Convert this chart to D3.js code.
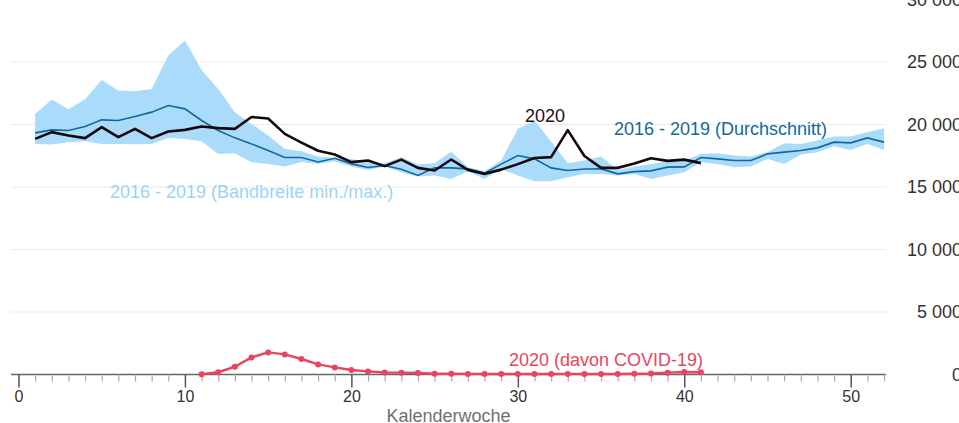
<!DOCTYPE html>
<html>
<head>
<meta charset="utf-8">
<script src="https://cdn.jsdelivr.net/npm/d3@7"></script>
<style>
  html, body { margin: 0; padding: 0; background: #fff; }
  svg { display: block; font-family: "Liberation Sans", Arial, sans-serif; }
</style>
</head>
<body>
<svg id="chart" width="959" height="423"></svg>
<script>
// ---- data ----
const weeks = d3.range(1, 53);
const bandMax = [20850,22000,21230,22030,23570,22720,22670,22850,25520,26720,24370,22850,20990,20050,19120,18050,17870,17450,17330,17250,16990,16910,17390,16800,16910,17840,16590,16270,17120,19650,20320,18650,16910,17120,17440,16370,16640,16850,17070,17120,17650,17710,17520,17440,17790,18510,18450,18720,19040,19040,19390,19710];
const bandMin = [18450,18400,18590,18670,18450,18450,18430,18450,18930,18850,18670,17650,17710,16990,16850,16640,17000,16850,17070,16640,16370,16640,16190,15840,15920,15650,16270,15650,16450,15920,15470,15470,15790,16050,16050,15920,16050,15650,15920,16190,16990,16850,16590,16640,17250,16850,17600,17790,18270,17970,18450,17970];
const avg = [19330,19570,19520,19840,20370,20320,20640,20990,21520,21250,20320,19520,18930,18450,17920,17360,17360,17000,17300,16850,16560,16720,16420,15920,16530,16530,16450,16110,16830,17520,17250,16530,16320,16440,16450,16050,16230,16290,16590,16610,17360,17250,17120,17120,17650,17790,17920,18130,18590,18530,18930,18590];
const weeks2020 = d3.range(1, 42);
const total2020 = [18850,19390,19120,18910,19790,18990,19650,18910,19440,19570,19840,19710,19650,20600,20480,19250,18550,17900,17600,16990,17120,16670,17190,16530,16320,17200,16370,16050,16390,16830,17320,17390,19550,17480,16530,16530,16880,17300,17090,17190,16910];
const weeksCovid = d3.range(11, 42);
const covid2020 = [30,180,620,1370,1770,1610,1240,810,570,360,250,160,150,120,60,60,50,50,50,50,50,40,50,50,50,50,60,80,150,200,180];
const yTicks = [0,5000,10000,15000,20000,25000,30000];
const xMajorTicks = [0,10,20,30,40,50];
const xMinorTicks = d3.range(0, 53);
const labels = {
  band: "2016 - 2019 (Bandbreite min./max.)",
  avg: "2016 - 2019 (Durchschnitt)",
  y2020: "2020",
  covid: "2020 (davon COVID-19)",
  xTitle: "Kalenderwoche"
};

// ---- scales ----
const svg = d3.select("#chart");
const x = d3.scaleLinear().domain([-0.45, 52.12]).range([11, 886]);
const y = d3.scaleLinear().domain([0, 30000]).range([374.5, -0.5]);
const loc = d3.formatLocale({decimal: ",", thousands: " ", grouping: [3], currency: ["", " €"]});
const fmt = loc.format(",d");

const colBand = "#abdbfa";
const colAvg = "#11699b";
const colBlack = "#16080c";
const colRed = "#e8455e";

// grid
svg.append("g").selectAll("line").data(yTicks.filter(d => d > 0)).join("line")
  .attr("x1", x.range()[0]).attr("x2", x.range()[1])
  .attr("y1", d => y(d)).attr("y2", d => y(d))
  .attr("stroke", "#ebebeb").attr("stroke-width", 1);

// band
const bandData = weeks.map((w, i) => ({w, lo: bandMin[i], hi: bandMax[i]}));
svg.append("path").datum(bandData)
  .attr("fill", colBand)
  .attr("d", d3.area().x(d => x(d.w)).y0(d => y(d.lo)).y1(d => y(d.hi)));

// average
svg.append("path").datum(weeks.map((w, i) => [w, avg[i]]))
  .attr("fill", "none").attr("stroke", colAvg).attr("stroke-width", 1.6)
  .attr("d", d3.line().x(d => x(d[0])).y(d => y(d[1])));

// 2020 total
svg.append("path").datum(weeks2020.map((w, i) => [w, total2020[i]]))
  .attr("fill", "none").attr("stroke", colBlack).attr("stroke-width", 2.6)
  .attr("stroke-linejoin", "round")
  .attr("d", d3.line().x(d => x(d[0])).y(d => y(d[1])));

// x axis
const axisG = svg.append("g").attr("transform", `translate(0,${y(0)})`);
axisG.append("line").attr("x1", x.range()[0]).attr("x2", x.range()[1])
  .attr("stroke", "#666").attr("stroke-width", 1.5);
const minor = axisG.append("g").call(d3.axisBottom(x).tickValues(xMinorTicks.filter(d => d % 10 !== 0)).tickSize(7).tickFormat(""));
minor.select(".domain").remove();
minor.selectAll("line").attr("stroke", "#aaa").attr("stroke-width", 1.2);
const major = axisG.append("g").call(d3.axisBottom(x).tickValues(xMajorTicks).tickSize(13).tickPadding(3).tickFormat(d3.format("d")));
major.select(".domain").remove();
major.selectAll("line").attr("stroke", "#555").attr("stroke-width", 1.5);
major.selectAll("text").attr("font-size", 16).attr("fill", "#333").attr("font-family", "Liberation Sans, Arial, sans-serif");

// covid line
const covData = weeksCovid.map((w, i) => [w, covid2020[i]]);
svg.append("path").datum(covData)
  .attr("fill", "none").attr("stroke", colRed).attr("stroke-width", 2.5)
  .attr("stroke-linejoin", "round")
  .attr("d", d3.line().x(d => x(d[0])).y(d => y(d[1])));
svg.append("g").selectAll("circle").data(covData).join("circle")
  .attr("cx", d => x(d[0])).attr("cy", d => y(d[1])).attr("r", 3)
  .attr("fill", colRed);

// y axis labels (right)
const yAxis = svg.append("g").attr("transform", "translate(962,0)")
  .call(d3.axisLeft(y).tickValues(yTicks).tickSize(0).tickPadding(0).tickFormat(fmt));
yAxis.select(".domain").remove();
yAxis.selectAll("text").attr("font-size", 18).attr("fill", "#333").attr("font-family", "Liberation Sans, Arial, sans-serif");

// labels
svg.append("text").attr("x", 110).attr("y", 198).attr("font-size", 18).attr("fill", "#9dd3f6").text(labels.band);
svg.append("text").attr("x", 614).attr("y", 135).attr("font-size", 18).attr("fill", colAvg).text(labels.avg);
svg.append("text").attr("x", 545).attr("y", 122).attr("text-anchor", "middle").attr("font-size", 18).attr("fill", "#2a0d14").text(labels.y2020);
svg.append("text").attr("x", 509).attr("y", 366).attr("font-size", 18).attr("fill", colRed).text(labels.covid);
svg.append("text").attr("x", 448.5).attr("y", 422).attr("text-anchor", "middle").attr("font-size", 18).attr("fill", "#707070").text(labels.xTitle);
</script>
</body>
</html>
